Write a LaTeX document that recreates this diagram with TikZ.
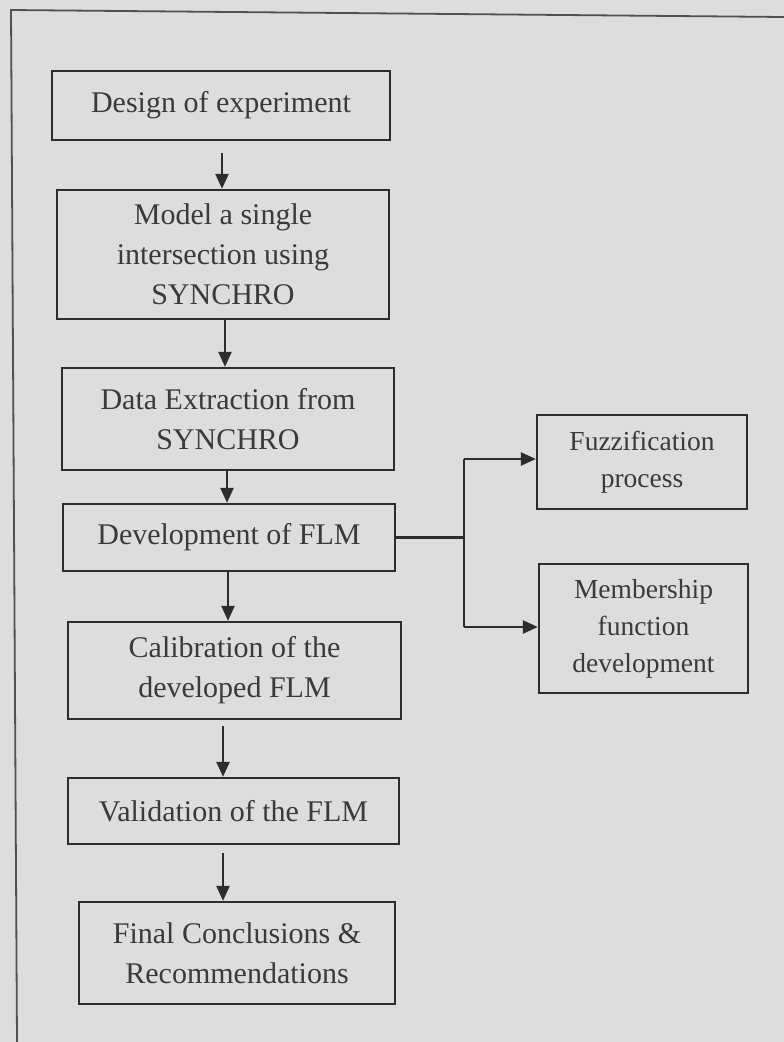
\documentclass[tikz,border=0pt]{standalone}
\usepackage{fontspec}
\setmainfont{Liberation Serif}[Ligatures=NoCommon]
\usetikzlibrary{arrows.meta}
\definecolor{paper}{RGB}{221,221,221}
\definecolor{ink}{RGB}{45,45,45}
\definecolor{txt}{RGB}{58,58,58}
\definecolor{frame}{RGB}{80,80,80}
\begin{document}
\begin{tikzpicture}[x=1pt,y=-1pt,
  stepbox/.style={draw=ink, line width=2.3pt, rectangle, inner sep=0pt,
    align=center, text=txt, font=\fontsize{30}{40}\selectfont},
  sidebox/.style={stepbox, font=\fontsize{27.5}{37}\selectfont},
  arr/.style={draw=ink, line width=2.3pt,
    -{Triangle[length=15pt,width=13pt]}},
  link/.style={draw=ink, line width=2.6pt}]
  % page and frame
  \fill[paper] (0,0) rectangle (784,1042);
  \useasboundingbox (0,0) rectangle (784,1042);
  \draw[frame, line width=1.8pt] (17,1042) -- (11,10) -- (784,17);

  % main column
  \node[stepbox, minimum width=338pt, minimum height=69pt] (b1) at (221,105.5)
    {Design of experiment};
  \node[stepbox, minimum width=332pt, minimum height=129pt] (b2) at (223,254.5)
    {Model a single\\intersection using\\SYNCHRO};
  \node[stepbox, minimum width=332pt, minimum height=102pt] (b3) at (228,419)
    {Data Extraction from\\SYNCHRO};
  \node[stepbox, minimum width=332pt, minimum height=67pt] (b4) at (229,537.5)
    {Development of FLM};
  \node[stepbox, minimum width=333pt, minimum height=97pt] (b5) at (234.5,670.5)
    {Calibration of the\\developed FLM};
  \node[stepbox, minimum width=331pt, minimum height=66pt] (b6) at (233.5,811)
    {Validation of the FLM};
  \node[stepbox, minimum width=316pt, minimum height=102pt] (b7) at (237,953)
    {Final Conclusions \&\\Recommendations};

  % side branch
  \node[sidebox, minimum width=210pt, minimum height=94pt] (bf) at (642,462)
    {Fuzzification\\process};
  \node[sidebox, minimum width=209pt, minimum height=129pt] (bm) at (643.5,628.5)
    {Membership\\function\\development};

  % arrow columns
  \coordinate (c1) at (222,0);
  \coordinate (c2) at (225,0);
  \coordinate (c3) at (227,0);
  \coordinate (c4) at (228,0);
  \coordinate (c5) at (223,0);

  \draw[arr, shorten <=12pt] (b1.south -| c1) -- (b2.north -| c1);
  \draw[arr] (b2.south -| c2) -- (b3.north -| c2);
  \draw[arr] (b3.south -| c3) -- (b4.north -| c3);
  \draw[arr] (b4.south -| c4) -- (b5.north -| c4);
  \draw[arr, shorten <=6pt] (b5.south -| c5) -- (b6.north -| c5);
  \draw[arr, shorten <=8pt] (b6.south -| c5) -- (b7.north -| c5);

  % fork from Development of FLM
  \coordinate (jt) at (464,459);
  \coordinate (jb) at (464,627);
  \draw[link] (b4.east) -- (b4.east -| jt);
  \draw[link] (jt) -- (jb);
  \draw[arr] (jt) -- (jt -| bf.west);
  \draw[arr] (jb) -- (jb -| bm.west);
\end{tikzpicture}
\end{document}
